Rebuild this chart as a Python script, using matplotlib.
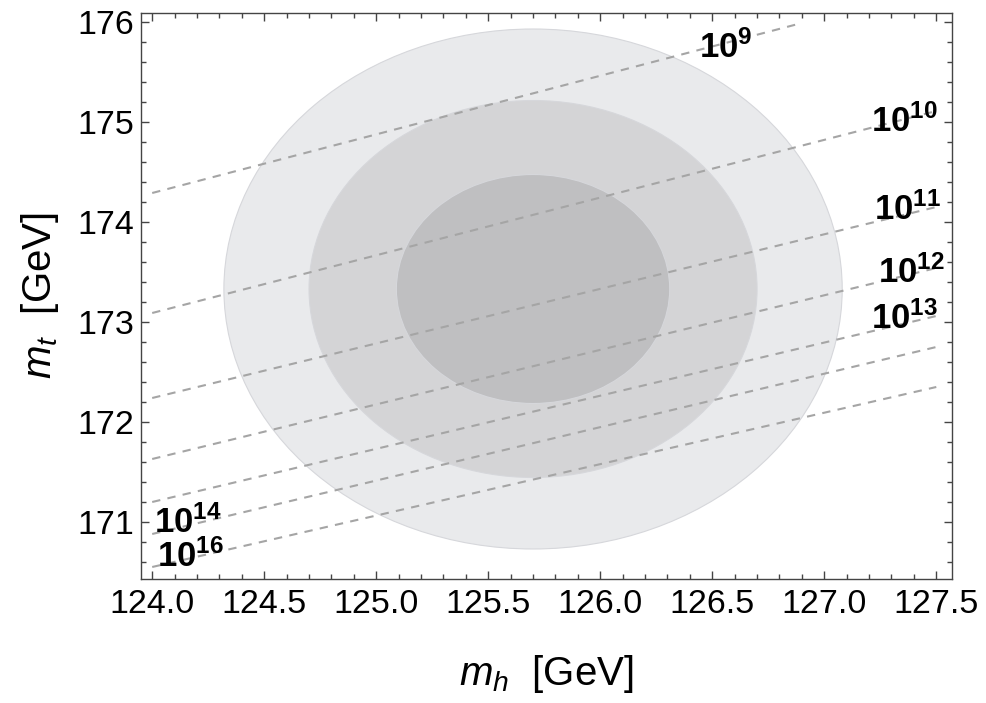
import matplotlib
matplotlib.use("Agg")
import matplotlib.pyplot as plt
from matplotlib.patches import Ellipse
from matplotlib.ticker import MultipleLocator, FormatStrFormatter

plt.rcParams['font.family'] = ['Liberation Sans', 'DejaVu Sans']
plt.rcParams['mathtext.fontset'] = 'custom'
plt.rcParams['mathtext.it'] = 'Liberation Sans:italic'
plt.rcParams['mathtext.rm'] = 'Liberation Sans'
plt.rcParams['mathtext.bf'] = 'Liberation Sans:bold'

# Confidence ellipses (center and semi-axes, GeV)
center_mh = 125.70
center_mt = 173.33
semi_mh = [1.38, 1.00, 0.61]
semi_mt = [2.60, 1.885, 1.145]
ellipse_colors = ['#e9eaec', '#d4d4d6', '#bfbfc1']

# Instability-scale lines: endpoints (mh, mt)
scale_labels = ['$\\mathbf{10^{9}}$', '$\\mathbf{10^{10}}$', '$\\mathbf{10^{11}}$',
                '$\\mathbf{10^{12}}$', '$\\mathbf{10^{13}}$', '$\\mathbf{10^{14}}$',
                '$\\mathbf{10^{16}}$']
line_mh0 = [124.0, 124.0, 124.0, 124.0, 124.0, 124.0, 124.0]
line_mt0 = [174.29, 173.09, 172.24, 171.63, 171.20, 170.88, 170.55]
line_mh1 = [126.90, 127.5, 127.5, 127.5, 127.5, 127.5, 127.5]
line_mt1 = [175.99, 175.11, 174.15, 173.54, 173.06, 172.75, 172.35]
label_mh = [126.56, 127.36, 127.37, 127.39, 127.36, 124.16, 124.17]
label_mt = [175.74, 175.00, 174.12, 173.49, 173.03, 170.99, 170.65]

xticks = [124.0, 124.5, 125.0, 125.5, 126.0, 126.5, 127.0, 127.5]
yticks = [171, 172, 173, 174, 175, 176]

fig = plt.figure(figsize=(9.86, 7.03), dpi=100)
ax = fig.add_axes([0.143, 0.1764, 0.8225, 0.8051])

for a, b, c in zip(semi_mh, semi_mt, ellipse_colors):
    ax.add_patch(Ellipse((center_mh, center_mt), 2 * a, 2 * b, facecolor=c,
                         edgecolor='#d6d7db', linewidth=0.8, zorder=1))

for x0, y0, x1, y1 in zip(line_mh0, line_mt0, line_mh1, line_mt1):
    ax.plot([x0, x1], [y0, y1], color='#a5a5a5', linewidth=1.5,
            dashes=(4, 3.5), zorder=2)

for lab, x, y in zip(scale_labels, label_mh, label_mt):
    ax.text(x, y, lab, fontsize=25, ha='center', va='center', zorder=3,
            color='black')

ax.set_xlim(123.95, 127.57)
ax.set_ylim(170.43, 176.09)
ax.set_xticks(xticks)
ax.set_yticks(yticks)
ax.xaxis.set_major_formatter(FormatStrFormatter('%.1f'))
ax.yaxis.set_major_formatter(FormatStrFormatter('%d'))
ax.xaxis.set_minor_locator(MultipleLocator(0.1))
ax.yaxis.set_minor_locator(MultipleLocator(0.2))
ax.tick_params(which='both', direction='in', top=True, right=True,
               color='#444444', width=1.0)
ax.tick_params(which='major', length=6, labelsize=24.5)
ax.tick_params(axis='x', which='major', pad=7)
ax.tick_params(axis='y', which='major', pad=5)
ax.tick_params(which='minor', length=3.5)
for s in ax.spines.values():
    s.set_color('#444444')
    s.set_linewidth(1.0)

ax.set_xlabel('$m_h$  [GeV]', fontsize=29, labelpad=24)
ax.set_ylabel('$m_t$  [GeV]', fontsize=29, labelpad=12)

fig.savefig('out.png', dpi=100)
